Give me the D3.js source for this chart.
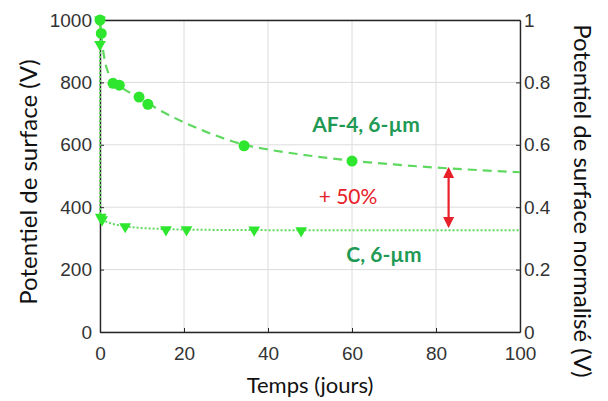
<!DOCTYPE html>
<html>
<head>
<meta charset="utf-8">
<script src="https://cdn.jsdelivr.net/npm/d3@7"></script>
<style>
  body { margin: 0; background: #fff; }
  svg { display: block; }
</style>
</head>
<body>
<div id="chart"></div>
<script>
// data
const afDays = [0, 0.3, 3.1, 4.6, 9.3, 11.4, 34.3, 60];
const afVolts = [1000, 957, 797, 791, 753, 730, 597, 548];
const afFitDays = [0, 0.5, 1, 2, 3, 5, 10, 15, 20, 25, 30, 35, 40, 50, 60, 70, 80, 90, 100];
const afFitVolts = [1000, 930, 880, 830, 805, 785, 745, 705, 672, 643, 618, 598, 585, 565, 549, 537, 527, 519, 512];

const cDays = [0, 0, 0.2, 0.5, 6, 15.7, 20.6, 36.7, 47.9];
const cVolts = [1000, 922, 368, 360, 338, 328, 328, 327, 325];
const cFitDays = [0, 0.05, 0.3, 1, 3, 6, 10, 15, 20, 30, 50, 100];
const cFitVolts = [1000, 370, 362, 356, 346, 338, 333, 330, 328, 327, 326, 326];

const xTicks = [0, 20, 40, 60, 80, 100];
const yTicks = [0, 200, 400, 600, 800, 1000];
const y2Ticks = [0, 0.2, 0.4, 0.6, 0.8, 1];

const W = 608, H = 401;
const margin = {top: 20, right: 88, bottom: 69, left: 100};

let svg = d3.select("#chart").append("svg")
    .attr("width", W)
    .attr("height", H);

let x = d3.scaleLinear().domain([0, 100]).range([margin.left, W - margin.right]);
let y = d3.scaleLinear().domain([0, 1000]).range([H - margin.bottom, margin.top]);
let y2 = d3.scaleLinear().domain([0, 1]).range([H - margin.bottom, margin.top]);

const axisCol = "#262626";
const green = "#2ee62e";
const lineGreen = "#5fd85f";
const labelGreen = "#1f9a55";

//grid
let grid = svg.append("g");
grid.selectAll(".gx").data(xTicks).enter().append("line")
    .attr("x1", d => x(d)).attr("x2", d => x(d))
    .attr("y1", y(0)).attr("y2", y(1000))
    .attr("stroke", "#dcdcdc").attr("stroke-width", 1);
grid.selectAll(".gy").data(yTicks).enter().append("line")
    .attr("x1", x(0)).attr("x2", x(100))
    .attr("y1", d => y(d)).attr("y2", d => y(d))
    .attr("stroke", "#dcdcdc").attr("stroke-width", 1);

//axes
function styleAxis(g){
    g.select(".domain").attr("stroke", axisCol).attr("stroke-width", 1.4);
    g.selectAll(".tick line").attr("stroke", axisCol);
    g.selectAll(".tick text").attr("fill", "#333")
        .attr("font-family", "Liberation Sans, Arial, sans-serif")
        .attr("font-size", "19px");
}

let gx = svg.append("g").attr("transform", `translate(0,${y(0)})`)
    .call(d3.axisBottom(x).tickValues(xTicks).tickSizeInner(-4).tickSizeOuter(0).tickPadding(15));
styleAxis(gx);

let gxTop = svg.append("g").attr("transform", `translate(0,${y(1000)})`)
    .call(d3.axisTop(x).tickValues([]).tickSizeOuter(0));
styleAxis(gxTop);

let gy = svg.append("g").attr("transform", `translate(${x(0)},0)`)
    .call(d3.axisLeft(y).tickValues(yTicks).tickFormat(d3.format("d")).tickSizeInner(-4).tickSizeOuter(0).tickPadding(8));
styleAxis(gy);

let gy2 = svg.append("g").attr("transform", `translate(${x(100)},0)`)
    .call(d3.axisRight(y2).tickValues(y2Ticks).tickFormat(d3.format("")).tickSizeInner(-4).tickSizeOuter(0).tickPadding(4));
styleAxis(gy2);

//fit lines
let afFit = afFitDays.map((d, i) => [d, afFitVolts[i]]);
let cFit = cFitDays.map((d, i) => [d, cFitVolts[i]]);

svg.append("path").datum(afFit)
    .attr("fill", "none").attr("stroke", lineGreen).attr("stroke-width", 2.2)
    .attr("stroke-dasharray", "9,6")
    .attr("d", d3.line().x(d => x(d[0])).y(d => y(d[1])).curve(d3.curveMonotoneX));

svg.append("path").datum(cFit)
    .attr("fill", "none").attr("stroke", lineGreen).attr("stroke-width", 2)
    .attr("stroke-dasharray", "2,2")
    .attr("d", d3.line().x(d => x(d[0])).y(d => y(d[1])));

//markers
svg.append("g").selectAll("path").data(cDays.map((d, i) => [d, cVolts[i]]))
    .enter().append("path")
    .attr("transform", d => `translate(${x(d[0])},${y(d[1])}) rotate(180)`)
    .attr("d", d3.symbol(d3.symbolTriangle, 60))
    .attr("fill", green);

svg.append("g").selectAll("circle").data(afDays.map((d, i) => [d, afVolts[i]]))
    .enter().append("circle")
    .attr("cx", d => x(d[0])).attr("cy", d => y(d[1]))
    .attr("r", 5.5)
    .attr("fill", green);

//annotations
svg.append("text").attr("x", 366).attr("y", 132)
    .attr("text-anchor", "middle")
    .attr("font-family", "Lato, sans-serif").attr("font-weight", "bold")
    .attr("font-size", "21px").attr("fill", labelGreen)
    .text("AF-4, 6-µm");

svg.append("text").attr("x", 384).attr("y", 262)
    .attr("text-anchor", "middle")
    .attr("font-family", "Lato, sans-serif").attr("font-weight", "bold")
    .attr("font-size", "21px").attr("fill", labelGreen)
    .text("C, 6-µm");

svg.append("text").attr("x", 348).attr("y", 204)
    .attr("text-anchor", "middle")
    .attr("font-family", "Lato, sans-serif")
    .attr("font-size", "21px").attr("fill", "#e8202a")
    .text("+ 50%");

let defs = svg.append("defs");
defs.append("marker").attr("id", "head")
    .attr("viewBox", "0 0 10 10").attr("refX", 8).attr("refY", 5)
    .attr("markerWidth", 5).attr("markerHeight", 5)
    .attr("orient", "auto-start-reverse")
    .append("path").attr("d", "M0,0 L10,5 L0,10 z").attr("fill", "#e8202a");

svg.append("line")
    .attr("x1", x(83)).attr("x2", x(83))
    .attr("y1", y(522)).attr("y2", y(340))
    .attr("stroke", "#e8202a").attr("stroke-width", 2.2)
    .attr("marker-start", "url(#head)").attr("marker-end", "url(#head)");

//axis titles
svg.append("text").attr("x", 310).attr("y", 393)
    .attr("text-anchor", "middle")
    .attr("font-family", "Lato, sans-serif").attr("font-size", "22px").attr("fill", "#111")
    .text("Temps (jours)");

svg.append("text")
    .attr("transform", `translate(37,182) rotate(-90)`)
    .attr("text-anchor", "middle")
    .attr("font-family", "Lato, sans-serif").attr("font-size", "24px").attr("fill", "#111")
    .text("Potentiel de surface (V)");

svg.append("text")
    .attr("transform", `translate(574,201) rotate(90)`)
    .attr("text-anchor", "middle")
    .attr("font-family", "Lato, sans-serif").attr("font-size", "24px").attr("fill", "#111")
    .text("Potentiel de surface normalisé (V)");
</script>
</body>
</html>
